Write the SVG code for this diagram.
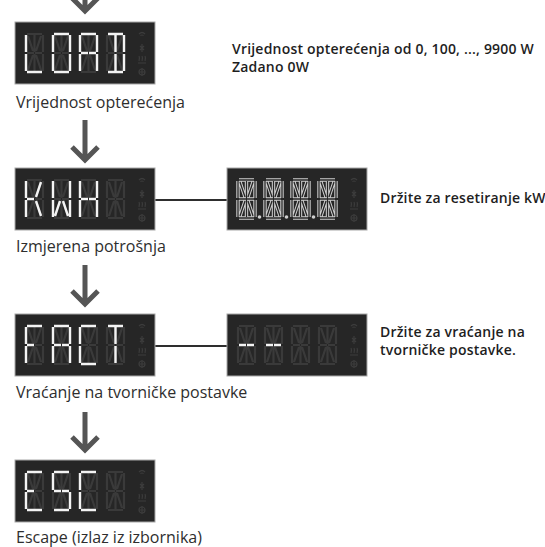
<svg xmlns="http://www.w3.org/2000/svg" xmlns:xlink="http://www.w3.org/1999/xlink" width="545" height="547" viewBox="0 0 545 547">
<style>
.lbl{font-family:"Open Sans","Liberation Sans",sans-serif;font-size:16px;fill:#2e2e2e}
.note{font-family:"Open Sans","Liberation Sans",sans-serif;font-size:14px;letter-spacing:0.2px;font-weight:600;fill:#1e1e1e}
.box{fill:#262626;stroke:#a8a8a8;stroke-width:1}
.dim{fill:none;stroke:#3a3a3a;stroke-width:2.2}
.lit{fill:none;stroke:#f3f3f3;stroke-width:2.4}
.hol{fill:none;stroke:#cfcfcf;stroke-width:3.4}
.holin{fill:none;stroke:#262626;stroke-width:1.3}
.ico{fill:none;stroke:#3c3c3c;stroke-width:1.2}
.arrow{fill:none;stroke:#555;stroke-width:5}
.conn{fill:none;stroke:#2e2e2e;stroke-width:2}
</style>
<defs>
<g id="segs">
<path d="M2,1H17M2,39H17M1,2V19M1,21V38M18,2V19M18,21V38M2,20H9M10,20H17M9.5,2V19M9.5,21V38M3,3L8,18M16,3L11,18M8,22L3,37M11,22L16,37"/>
</g>
<g id="icons">
<path class="ico" d="M-3,3Q0,0 3,3M-1.6,4.6Q0,3.4 1.6,4.6"/>
<path class="ico" d="M0,13V21M-2,15L2,19M2,15L-2,19"/>
<path class="ico" d="M-3,30Q-2,27 -3,25M0,30Q1,27 0,25M3,30Q4,27 3,25M-4,32H4"/>
<circle class="ico" cx="0" cy="41" r="3"/>
<path class="ico" d="M0,37V45M-3,41H3"/>
</g>
<g id="panel">
<rect class="box" x="0" y="0" width="140" height="62"/>
<use href="#segs" class="dim" x="10" y="11"/>
<use href="#segs" class="dim" x="37" y="11"/>
<use href="#segs" class="dim" x="64" y="11"/>
<use href="#segs" class="dim" x="91" y="11"/>
<use href="#icons" x="127" y="9"/>
</g>
</defs>

<g id="connectors">
<path class="arrow" d="M85,-10V10M72,-2L85,11L98,-2"/>
<path class="arrow" d="M85,120V159M72,147L85,160L98,147"/>
<path class="arrow" d="M85,265V303M72,291L85,304L98,291"/>
<path class="arrow" d="M85,412V449M72,437L85,450L98,437"/>
<path class="conn" d="M155,200H227"/>
<path class="conn" d="M155,346H227"/>
</g>

<g id="node-load">
<use href="#panel" x="15" y="22"/>
<g transform="translate(25,33)" class="lit"><path d="M1,2V19M1,21V38M2,39H17"/></g>
<g transform="translate(52,33)" class="lit"><path d="M2,1H17M2,39H17M1,2V19M1,21V38M18,2V19M18,21V38"/></g>
<g transform="translate(79,33)" class="lit"><path d="M2,1H17M1,2V19M1,21V38M18,2V19M18,21V38M2,20H9M10,20H17"/></g>
<g transform="translate(106,33)" class="lit"><path d="M2,1H17M2,39H17M18,2V19M18,21V38M9.5,2V19M9.5,21V38"/></g>
<text class="lbl" x="16" y="108">Vrijednost opterećenja</text>
</g>

<g id="note-load">
<text class="note" x="232" y="54">Vrijednost opterećenja od 0, 100, ..., 9900 W</text>
<text class="note" x="232" y="72">Zadano 0W</text>
</g>

<g id="node-kwh">
<use href="#panel" x="15" y="168"/>
<g transform="translate(25,179)" class="lit"><path d="M1,2V19M1,21V38M2,20H9M16,3L11,18M11,22L16,37"/></g>
<g transform="translate(52,179)" class="lit"><path d="M1,2V19M1,21V38M18,2V19M18,21V38M8,22L3,37M11,22L16,37"/></g>
<g transform="translate(79,179)" class="lit"><path d="M1,2V19M1,21V38M18,2V19M18,21V38M2,20H9M10,20H17"/></g>
<text class="lbl" x="16" y="252">Izmjerena potrošnja</text>
</g>

<g id="node-kwh-value">
<use href="#panel" x="227" y="168"/>
<use href="#segs" class="hol" x="237" y="179"/>
<use href="#segs" class="hol" x="264" y="179"/>
<use href="#segs" class="hol" x="291" y="179"/>
<use href="#segs" class="hol" x="318" y="179"/>
<use href="#segs" class="holin" x="237" y="179"/>
<use href="#segs" class="holin" x="264" y="179"/>
<use href="#segs" class="holin" x="291" y="179"/>
<use href="#segs" class="holin" x="318" y="179"/>
<circle cx="259.5" cy="217" r="1.8" fill="#cfcfcf"/>
<circle cx="286.5" cy="217" r="1.8" fill="#cfcfcf"/>
<circle cx="313.5" cy="217" r="1.8" fill="#cfcfcf"/>
<text class="note" x="380" y="203">Držite za resetiranje kW</text>
</g>

<g id="node-fact">
<use href="#panel" x="15" y="314"/>
<g transform="translate(25,325)" class="lit"><path d="M2,1H17M1,2V19M1,21V38M2,20H9"/></g>
<g transform="translate(52,325)" class="lit"><path d="M2,1H17M1,2V19M1,21V38M18,2V19M18,21V38M2,20H9M10,20H17"/></g>
<g transform="translate(79,325)" class="lit"><path d="M2,1H17M2,39H17M1,2V19M1,21V38"/></g>
<g transform="translate(106,325)" class="lit"><path d="M2,1H17M9.5,2V19M9.5,21V38"/></g>
<text class="lbl" x="16" y="398">Vraćanje na tvorničke postavke</text>
</g>

<g id="node-fact-value">
<use href="#panel" x="227" y="314"/>
<g transform="translate(237,325)" class="lit"><path d="M2,20H9M10,20H17"/></g>
<g transform="translate(264,325)" class="lit"><path d="M2,20H9M10,20H17"/></g>
<text class="note" x="380" y="337">Držite za vraćanje na</text>
<text class="note" x="380" y="355">tvorničke postavke.</text>
</g>

<g id="node-esc">
<use href="#panel" x="15" y="460"/>
<g transform="translate(25,471)" class="lit"><path d="M2,1H17M2,39H17M1,2V19M1,21V38M2,20H9"/></g>
<g transform="translate(52,471)" class="lit"><path d="M2,1H17M1,2V19M2,20H9M10,20H17M18,21V38M2,39H17"/></g>
<g transform="translate(79,471)" class="lit"><path d="M2,1H17M2,39H17M1,2V19M1,21V38"/></g>
<text class="lbl" x="16" y="543">Escape (izlaz iz izbornika)</text>
</g>
</svg>
